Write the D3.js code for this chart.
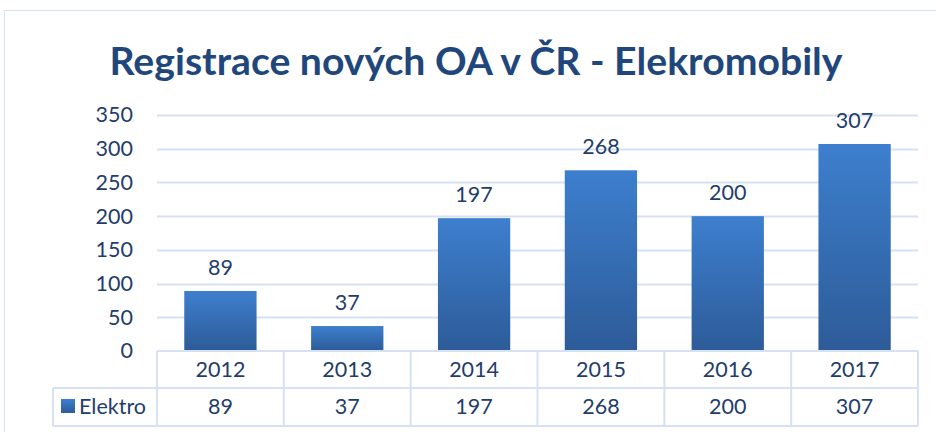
<!DOCTYPE html>
<html>
<head>
<meta charset="utf-8">
<script src="https://cdn.jsdelivr.net/npm/d3@7"></script>
<style>
  body { margin: 0; background: #fff; }
  text { font-family: Lato, "Open Sans", sans-serif; }
</style>
</head>
<body>
<div id="chart"></div>
<script>
// data
var years = ["2012", "2013", "2014", "2015", "2016", "2017"];
var elektro = [89, 37, 197, 268, 200, 307];
var yTicks = [0, 50, 100, 150, 200, 250, 300, 350];
var seriesName = "Elektro";
var title = "Registrace nových OA v ČR - Elekromobily";

var W = 936, H = 432;
var margin = {top: 115, left: 157, right: 18, bottom: 81},
    width = W - margin.left - margin.right,
    height = H - margin.top - margin.bottom;

var textColor = "#1f3d6b",
    gridColor = "#d6e2f3",
    fs = "21.5px";

var svg = d3.select("#chart")
  .append("svg")
    .attr("width", W)
    .attr("height", H);

// outer frame
svg.append("rect")
  .attr("x", 4.5).attr("y", 10.5)
  .attr("width", W + 10).attr("height", H)
  .attr("fill", "none")
  .attr("stroke", "#d6e2f3");

// title
svg.append("text")
  .attr("x", 476)
  .attr("y", 75)
  .attr("text-anchor", "middle")
  .attr("font-size", "38px")
  .attr("font-weight", "bold")
  .attr("fill", "#1f477c")
  .attr("textLength", 733)
  .attr("lengthAdjust", "spacingAndGlyphs")
  .text(title);

var g = svg.append("g")
  .attr("transform", "translate(" + margin.left + "," + margin.top + ")");

var x = d3.scaleBand()
  .domain(years)
  .range([0, width])
  .paddingInner(0.43)
  .paddingOuter(0.215);

var xCol = d3.scaleBand()
  .domain(years)
  .range([0, width]);

var y = d3.scaleLinear()
  .domain([0, 350])
  .range([height, 0]);

// gridlines
g.selectAll("line.grid")
  .data(yTicks.filter(function(d) { return d > 0; }))
  .enter().append("line")
    .attr("class", "grid")
    .attr("x1", 0).attr("x2", width)
    .attr("y1", function(d) { return Math.round(y(d)) + 0.5; })
    .attr("y2", function(d) { return Math.round(y(d)) + 0.5; })
    .attr("stroke", gridColor)
    .attr("stroke-width", 2);

// y axis labels
var yAxis = g.append("g")
  .call(d3.axisLeft(y).tickValues(yTicks).tickSize(0).tickPadding(24));
yAxis.select(".domain").remove();
yAxis.selectAll("text")
  .attr("font-size", fs)
  .attr("font-family", "Lato, 'Open Sans', sans-serif")
  .attr("fill", textColor);

// gradient for bars
var defs = svg.append("defs");
var grad = defs.append("linearGradient")
  .attr("id", "barGrad")
  .attr("x1", 0).attr("y1", 0).attr("x2", 0).attr("y2", 1);
grad.append("stop").attr("offset", "0%").attr("stop-color", "#3d7fce");
grad.append("stop").attr("offset", "100%").attr("stop-color", "#2d5b98");

// bars
g.selectAll("rect.bar")
  .data(elektro)
  .enter().append("rect")
    .attr("class", "bar")
    .attr("x", function(d, i) { return x(years[i]); })
    .attr("y", function(d) { return y(d); })
    .attr("width", x.bandwidth())
    .attr("height", function(d) { return height - y(d); })
    .attr("fill", "url(#barGrad)");

// value labels
g.selectAll("text.val")
  .data(elektro)
  .enter().append("text")
    .attr("class", "val")
    .attr("x", function(d, i) { return x(years[i]) + x.bandwidth() / 2; })
    .attr("y", function(d) { return y(d) - 16; })
    .attr("text-anchor", "middle")
    .attr("font-size", fs)
    .attr("fill", textColor)
    .text(function(d) { return d; });

// data table
var row1 = height, row2 = height + 37, row3 = height + 75;
var tbl = g.append("g");
var lineStyle = function(sel) {
  sel.attr("stroke", gridColor).attr("stroke-width", 2).attr("fill", "none");
};

// horizontal lines
tbl.append("line").attr("x1", 0).attr("x2", width).attr("y1", row1).attr("y2", row1).call(lineStyle);
tbl.append("line").attr("x1", -104).attr("x2", width).attr("y1", row2).attr("y2", row2).call(lineStyle);
tbl.append("line").attr("x1", -104).attr("x2", width).attr("y1", row3).attr("y2", row3).call(lineStyle);
tbl.append("line").attr("x1", -104).attr("x2", -104).attr("y1", row2).attr("y2", row3).call(lineStyle);

// vertical lines
tbl.selectAll("line.v")
  .data(years.concat(["end"]))
  .enter().append("line")
    .attr("class", "v")
    .attr("x1", function(d, i) { return i * xCol.bandwidth(); })
    .attr("x2", function(d, i) { return i * xCol.bandwidth(); })
    .attr("y1", row1).attr("y2", row3)
    .call(lineStyle);

// years row
tbl.selectAll("text.yr")
  .data(years)
  .enter().append("text")
    .attr("class", "yr")
    .attr("x", function(d) { return xCol(d) + xCol.bandwidth() / 2; })
    .attr("y", row1 + 26)
    .attr("text-anchor", "middle")
    .attr("font-size", fs)
    .attr("fill", textColor)
    .text(function(d) { return d; });

// values row
tbl.selectAll("text.tv")
  .data(elektro)
  .enter().append("text")
    .attr("class", "tv")
    .attr("x", function(d, i) { return xCol(years[i]) + xCol.bandwidth() / 2; })
    .attr("y", row2 + 26)
    .attr("text-anchor", "middle")
    .attr("font-size", fs)
    .attr("fill", textColor)
    .text(function(d) { return d; });

// legend key
tbl.append("rect")
  .attr("x", -96).attr("y", row2 + 11)
  .attr("width", 14).attr("height", 14)
  .attr("fill", "url(#barGrad)");
tbl.append("text")
  .attr("x", -78)
  .attr("y", row2 + 26)
  .attr("font-size", fs)
  .attr("fill", textColor)
  .text(seriesName);
</script>
</body>
</html>
